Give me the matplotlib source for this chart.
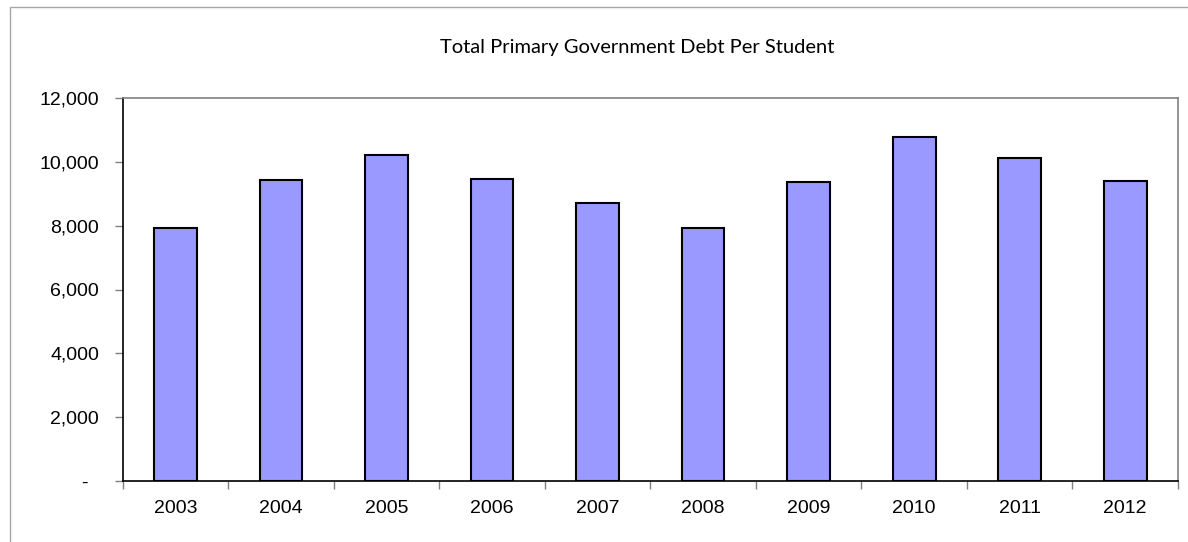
import matplotlib
matplotlib.use("Agg")
import matplotlib.pyplot as plt
from matplotlib.patches import Rectangle
from matplotlib.ticker import FixedLocator, FuncFormatter

years = ["2003", "2004", "2005", "2006", "2007", "2008", "2009", "2010", "2011", "2012"]
debt_per_student = [7920, 9430, 10210, 9450, 8700, 7920, 9380, 10790, 10110, 9390]
y_ticks = [0, 2000, 4000, 6000, 8000, 10000, 12000]
title = "Total Primary Government Debt Per Student"

W, H = 1188, 542
fig = plt.figure(figsize=(W / 100, H / 100), dpi=100)
fig.patch.set_facecolor("white")

# outer chart frame
fig.add_artist(Rectangle((9.5 / W, -0.1), 1.5, 1 - 6.5 / H + 0.1,
                         transform=fig.transFigure, fill=False,
                         edgecolor="#a6a6a6", linewidth=1.0))

ax = fig.add_axes([122.7 / W, 1 - 481 / H, (1178 - 122.7) / W, (481 - 98) / H])
x = list(range(len(years)))
ax.bar(x, debt_per_student, width=0.405, color="#9999ff",
       edgecolor="black", linewidth=1.5, zorder=3)

ax.set_xlim(-0.5, len(years) - 0.5)
ax.set_ylim(0, 12000)

for side in ("top", "right"):
    ax.spines[side].set_color("#808080")
    ax.spines[side].set_linewidth(1.2)
for side in ("left", "bottom"):
    ax.spines[side].set_color("black")
    ax.spines[side].set_linewidth(1.2)


def accounting(v, pos):
    # zero is shown as a dash, accounting style
    return "-  " if v == 0 else f"{int(v):,}"


ax.yaxis.set_major_locator(FixedLocator(y_ticks))
ax.yaxis.set_major_formatter(FuncFormatter(accounting))
ax.tick_params(axis="y", direction="out", length=6, width=1, color="#808080",
               pad=11, labelsize=14, labelcolor="black")

ax.set_xticks(x)
ax.set_xticklabels(years)
ax.set_xticks([i - 0.5 for i in range(len(years) + 1)], minor=True)
ax.tick_params(axis="x", which="major", length=0, pad=14, labelsize=14)
ax.tick_params(axis="x", which="minor", direction="out", length=6, width=1, color="#808080")

for lbl in ax.get_xticklabels() + ax.get_yticklabels():
    lbl.set_fontfamily("Liberation Sans")

fig.text(637 / W, 1 - 48 / H, title, ha="center", va="center",
         fontsize=14.5, family="Lato", color="black")

fig.savefig("out.png", dpi=100, facecolor="white")
